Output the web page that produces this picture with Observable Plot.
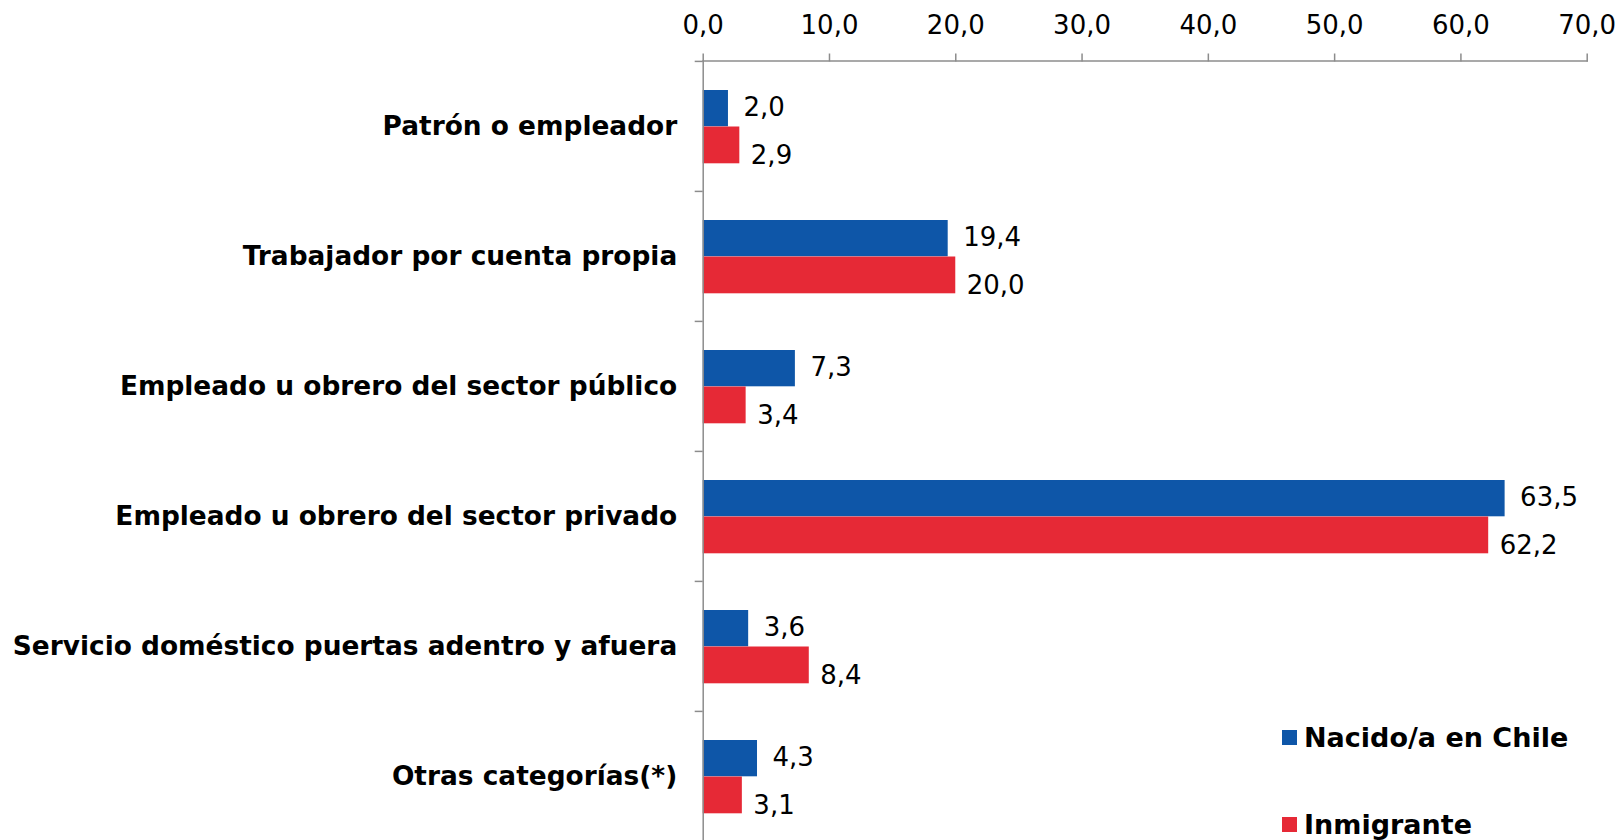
<!DOCTYPE html>
<html>
<head>
<meta charset="utf-8">
<script src="https://cdn.jsdelivr.net/npm/d3@7"></script>
<script src="https://cdn.jsdelivr.net/npm/@observablehq/plot@0.6"></script>
<style>
  body { margin: 0; background: #fff; }
  #wrap { position: relative; width: 1620px; height: 840px; overflow: hidden; font-family: "DejaVu Sans", Verdana, sans-serif; }
  .leg { position: absolute; left: 1282px; display: flex; align-items: center; font-weight: bold; font-size: 27px; color: #000; }
  .leg .sw { width: 15px; height: 15px; margin-right: 7px; }
</style>
</head>
<body>
<div id="wrap"></div>
<script>
const categories = [
  "Patrón o empleador",
  "Trabajador por cuenta propia",
  "Empleado u obrero del sector público",
  "Empleado u obrero del sector privado",
  "Servicio doméstico puertas adentro y afuera",
  "Otras categorías(*)"
];
const nacido = [2.0, 19.4, 7.3, 63.5, 3.6, 4.3];
const inmigrante = [2.9, 20.0, 3.4, 62.2, 8.4, 3.1];
const seriesNames = ["Nacido/a en Chile", "Inmigrante"];
const colors = ["#0e56a8", "#e62936"];
const xTicks = [0, 10, 20, 30, 40, 50, 60, 70];

const dNac = categories.map((c, i) => ({cat: c, v: nacido[i]}));
const dInm = categories.map((c, i) => ({cat: c, v: inmigrante[i]}));
const fmt = v => v.toFixed(1).replace(".", ",");

const plotTop = 60.5, step = 130.2;
const gray = "#8c8c8c";

const chart = Plot.plot({
  width: 1620,
  height: 840,
  marginTop: plotTop,
  marginLeft: 702.7,
  marginRight: 33.3,
  marginBottom: 0,
  style: {fontFamily: "DejaVu Sans, Verdana, sans-serif", background: "#fff"},
  x: {domain: [0, 70], label: null},
  y: {domain: categories, range: [plotTop, plotTop + 6 * step], padding: 0, label: null},
  marks: [
    Plot.barX(dNac, {y: "cat", x: "v", fill: colors[0], insetTop: 29, insetBottom: step - 65.5}),
    Plot.barX(dInm, {y: "cat", x: "v", fill: colors[1], insetTop: 65.5, insetBottom: step - 102.5}),
    Plot.text(dNac, {y: "cat", x: "v", text: d => fmt(d.v), textAnchor: "start", dx: 15, dy: -step / 2 + 47 - 1, fontSize: 26, fill: "#000"}),
    Plot.text(dInm, {y: "cat", x: "v", text: d => fmt(d.v), textAnchor: "start", dx: 11, dy: -step / 2 + 84 + 10, fontSize: 26, fill: "#000"}),
    Plot.ruleX([0], {stroke: gray, strokeWidth: 1.5}),
    Plot.frame({anchor: "top", stroke: gray, strokeWidth: 1.5}),
    Plot.axisX({anchor: "top", label: null, ticks: xTicks, tickFormat: fmt, tickSize: 8, tickPadding: 19, fontSize: 26, stroke: gray, strokeWidth: 1.5, color: "#000"}),
    Plot.axisY({anchor: "left", label: null, tickSize: 8, tickFormat: () => "", dy: -step / 2, stroke: gray, strokeWidth: 1.5}),
    Plot.axisY({anchor: "left", label: null, tickSize: 0, tickPadding: 26, fontSize: 26.4, fontWeight: "bold", fill: "#000"})
  ]
});

const wrap = document.getElementById("wrap");
wrap.appendChild(chart);
const legendY = [737, 824];
seriesNames.forEach((name, i) => {
  const el = document.createElement("div");
  el.className = "leg";
  el.style.top = (legendY[i] - 17) + "px";
  el.style.height = "34px";
  el.innerHTML = `<span class="sw" style="background:${colors[i]}"></span><span>${name}</span>`;
  wrap.appendChild(el);
});
</script>
</body>
</html>
